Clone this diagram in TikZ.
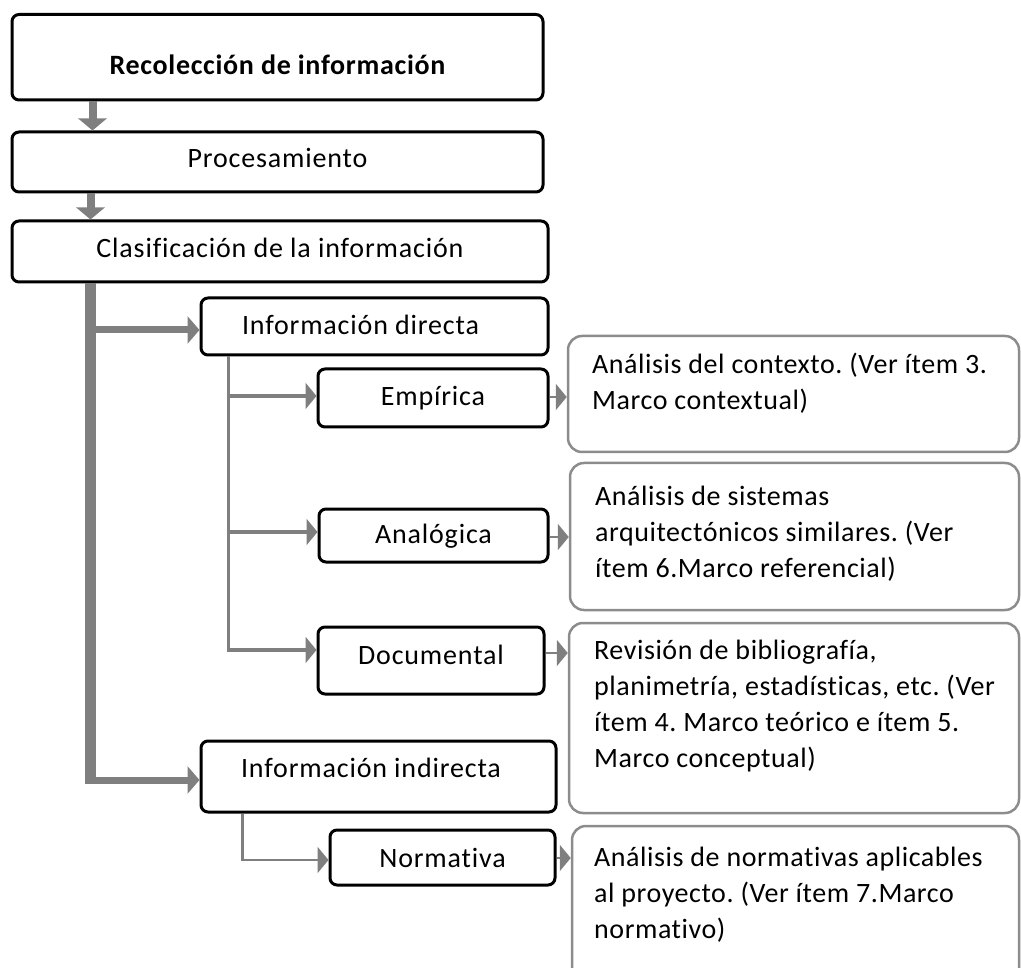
\documentclass[tikz,border=0pt]{standalone}
\usepackage{fontspec}
\setmainfont{Carlito}[Ligatures={NoCommon}]
\frenchspacing
\usetikzlibrary{arrows.meta,calc}
\definecolor{ag}{HTML}{7F7F7F}
\definecolor{rg}{HTML}{8C8C8C}
\begin{document}
\begin{tikzpicture}[x=1pt,y=-1pt,
  fnt/.style={font=\fontsize{28}{36}\selectfont\addfontfeature{LetterSpace=3}},
  rfnt/.style={font=\fontsize{28}{36}\selectfont\addfontfeature{LetterSpace=2}},
  bbox/.style={fnt, draw=black, line width=3pt, rounded corners=7pt, inner sep=0pt, text depth=6pt},
  rbox/.style={draw=rg, line width=2.5pt, rounded corners=14pt, inner sep=0pt},
  rtext/.style={rfnt, inner sep=0pt, anchor=north west, align=left},
  vbig/.style={draw=ag, line width=8pt, -{Triangle[width=28pt,length=12pt]}},
  hmid/.style={draw=ag, line width=7pt, -{Triangle[width=27pt,length=12pt]}},
  thinarrow/.style={draw=ag, line width=3.5pt, -{Triangle[width=26pt,length=11pt]}},
  finearrow/.style={draw=ag, line width=2.5pt, -{Triangle[width=26pt,length=11pt]}},
  trunk/.style={draw=ag, line width=11pt}
]
\useasboundingbox (0,0) rectangle (1021,968);

% main column boxes
\node[bbox, minimum width=531pt, minimum height=85.5pt, text height=41pt,
      font=\fontsize{28}{36}\selectfont\bfseries\addfontfeature{LetterSpace=2.5}] (rec) at (277.5,57.25) {Recolección de información};
\node[bbox, minimum width=531pt, minimum height=60pt, text height=18pt] (proc) at (277.5,162) {Procesamiento};
\node[bbox, minimum width=536pt, minimum height=61pt, text height=19pt] (clas) at (280,251.5) {Clasificación de la información};

\node[bbox, minimum width=347pt, minimum height=57pt, text height=23pt] (idir) at (374.5,326.5) {Información directa\hspace*{28pt}};
\node[bbox, minimum width=230pt, minimum height=58pt, text height=22pt] (emp) at (433,398) {Empírica};
\node[bbox, minimum width=229pt, minimum height=53pt, text height=21pt] (ana) at (433.5,535.5) {Analógica};
\node[bbox, minimum width=226pt, minimum height=67pt, text height=13pt] (doc) at (431,660.5) {Documental};
\node[bbox, minimum width=355pt, minimum height=71pt, text height=7pt] (iind) at (378.5,776.5) {Información indirecta\hspace*{15pt}};
\node[bbox, minimum width=225pt, minimum height=55pt, text height=25pt] (norm) at (442.5,857.5) {Normativa};

% right-hand description boxes
\node[rbox, minimum width=451pt, minimum height=116pt] (r1) at (793.5,394) {};
\node[rbox, minimum width=449pt, minimum height=147pt] (r2) at (794.5,536.5) {};
\node[rbox, minimum width=450pt, minimum height=190pt] (r3) at (794,718) {};
\node[rbox, minimum width=447pt, minimum height=174pt] (r4) at (795.5,913) {};

\node[rtext] (t1) at (592,347.8) {\strut Análisis del contexto. (Ver ítem 3.\\Marco contextual)};
\node[rtext] (t2) at (595,479.8) {\strut Análisis de sistemas\\arquitectónicos similares. (Ver\\ítem 6.Marco referencial)};
\node[rtext] (t3) at (594,633.8) {\strut Revisión de bibliografía,\\planimetría, estadísticas, etc. (Ver\\ítem 4. Marco teórico e ítem 5.\\Marco conceptual)};
\node[rtext] (t4) at (594,840.8) {\strut Análisis de normativas aplicables\\al proyecto. (Ver ítem 7.Marco\\normativo)};

% top arrows
\draw[vbig] ($(rec.south west)+(82,0)$) -- ($(proc.north west)+(82,0)$);
\draw[vbig] ($(proc.south west)+(80,0)$) -- ($(clas.north west)+(80,0)$);

% trunk and its branches
\coordinate (tk) at ($(clas.south west)+(79.5,0)$);
\draw[trunk] (tk) -- ($(tk |- iind.west)+(0,7.5)$);
\coordinate (idirin) at ($(idir.west)+(0,3.5)$);
\coordinate (iindin) at ($(iind.west)+(0,3.5)$);
\draw[hmid] (tk |- idirin) -- (idirin);
\draw[hmid] (tk |- iindin) -- (iindin);

% branches of Informacion directa
\coordinate (dl) at ($(idir.south west)+(29,0)$);
\draw[thinarrow] (dl) |- ($(emp.west)+(0,-2)$);
\draw[thinarrow] (dl) |- ($(ana.west)+(0,-3.5)$);
\draw[thinarrow] (dl) |- ($(doc.west)+(0,-10.5)$);

% branch of Informacion indirecta
\coordinate (il) at ($(iind.south west)+(43,0)$);
\draw[finearrow] (il) |- ($(norm.west)+(0,2.5)$);

% arrows to description boxes
\coordinate (e1) at ($(emp.east)+(0,-1)$);
\coordinate (e2) at ($(ana.east)+(0,1.5)$);
\coordinate (e3) at ($(doc.east)+(0,-7.5)$);
\coordinate (e4) at ($(norm.east)+(0,0.5)$);
\draw[finearrow] (e1) -- (e1 -| r1.west);
\draw[finearrow] (e2) -- (e2 -| r2.west);
\draw[finearrow] (e3) -- (e3 -| r3.west);
\draw[finearrow] (e4) -- (e4 -| r4.west);
\end{tikzpicture}
\end{document}
